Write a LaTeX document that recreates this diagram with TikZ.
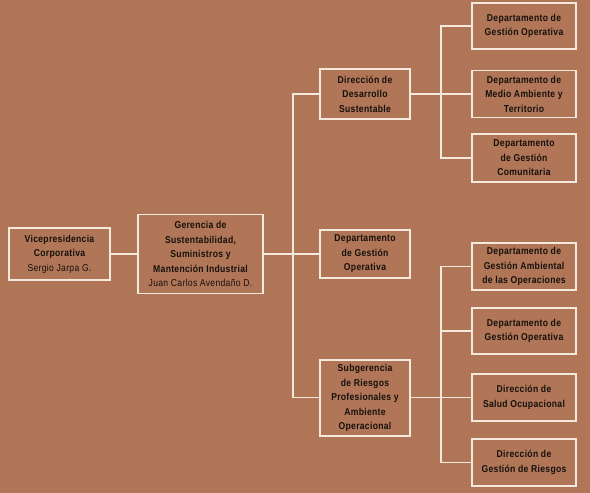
\documentclass[tikz,border=0pt]{standalone}
\usepackage{fontspec}
\setmainfont{Liberation Sans}[LetterSpace=3,FakeStretch=0.86]
\definecolor{bg}{RGB}{176,118,87}
\definecolor{ln}{RGB}{245,234,222}
\definecolor{tx}{RGB}{22,16,12}
\tikzset{
  box/.style={draw=ln, line width=1.4pt, text=tx, align=center, inner sep=1pt,
    font=\fontsize{10}{14.5}\selectfont\bfseries},
  conn/.style={draw=ln, line width=1.4pt}
}
\begin{document}
\begin{tikzpicture}[x=1pt,y=-1pt]
\fill[bg] (0,0) rectangle (590,493);
\useasboundingbox (0,0) rectangle (590,493);
\node[box, minimum width=101pt, minimum height=52pt] (vp) at (59.5,254) {Vicepresidencia\\Corporativa\\\mdseries Sergio Jarpa G.};
\node[box, minimum width=125pt, minimum height=79pt] (ger) at (200.5,254) {Gerencia de\\Sustentabilidad,\\Suministros y\\Mantención Industrial\\\mdseries Juan Carlos Avendaño D.};
\node[box, minimum width=90pt, minimum height=50pt] (dds) at (365,94) {Dirección de\\Desarrollo\\Sustentable};
\node[box, minimum width=90pt, minimum height=48pt] (dgo) at (365,254) {Departamento\\de Gestión\\Operativa};
\node[box, minimum width=90pt, minimum height=76pt] (sub) at (365,398) {Subgerencia\\de Riesgos\\Profesionales y\\Ambiente\\Operacional};
\node[box, minimum width=104pt, minimum height=46pt] (r1) at (524,26) {Departamento de\\Gestión Operativa};
\node[box, minimum width=104pt, minimum height=47pt] (r2) at (524,94) {Departamento de\\Medio Ambiente y\\Territorio};
\node[box, minimum width=104pt, minimum height=48pt] (r3) at (524,158) {Departamento\\de Gestión\\Comunitaria};
\node[box, minimum width=104pt, minimum height=47pt] (r4) at (524,266.5) {Departamento de\\Gestión Ambiental\\de las Operaciones};
\node[box, minimum width=104pt, minimum height=46pt] (r5) at (524,331) {Departamento de\\Gestión Operativa};
\node[box, minimum width=104pt, minimum height=47pt] (r6) at (524,397.5) {Dirección de\\Salud Ocupacional};
\node[box, minimum width=104pt, minimum height=47pt] (r7) at (524,462.5) {Dirección de\\Gestión de Riesgos};
\coordinate (tt) at (293,94);
\coordinate (tb) at (293,397.5);
\coordinate (ua) at (441,26);
\coordinate (ub) at (441,158);
\coordinate (la) at (441,266.5);
\coordinate (lb) at (441,462.5);
\draw[conn] (vp.east) -- (ger.west);
\draw[conn] (ger.east) -- (dgo.west);
\draw[conn] (dds.west) -- (tt) -- (tb) -- (sub.west |- tb);
\draw[conn] (dds.east) -- (r2.west);
\draw[conn] (r1.west) -- (ua) -- (ub) -- (r3.west);
\draw[conn] (sub.east |- tb) -- (r6.west);
\draw[conn] (r4.west) -- (la) -- (lb) -- (r7.west);
\draw[conn] (la |- r5.west) -- (r5.west);
\end{tikzpicture}
\end{document}
